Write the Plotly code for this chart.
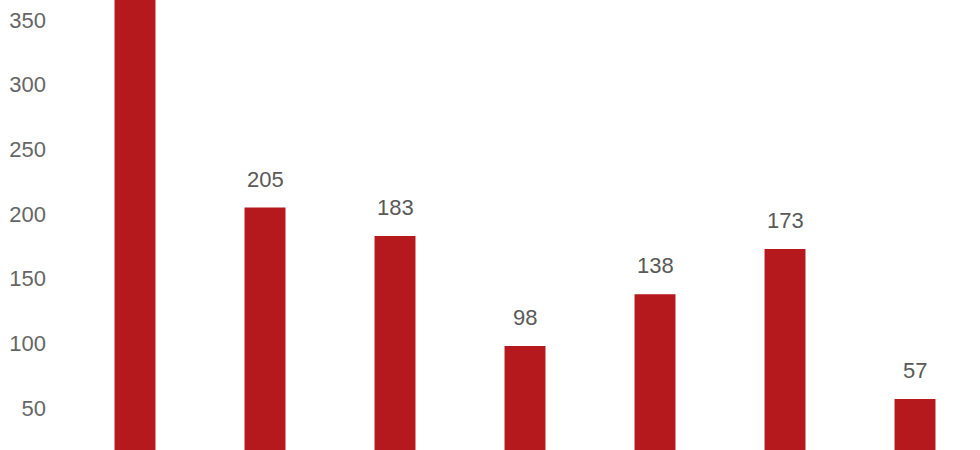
import plotly.graph_objects as go

# values (first bar runs past the top of the frame)
categories = ["A", "B", "C", "D", "E", "F", "G"]
values = [410, 205, 183, 98, 138, 173, 57]
y_ticks = [50, 100, 150, 200, 250, 300, 350]

bar_color = "#B5191E"
label_color = "#595959"
tick_color = "#666666"

fig = go.Figure()
fig.add_trace(go.Bar(
    x=categories,
    y=values,
    marker=dict(color=bar_color, line=dict(width=0)),
    width=0.315,
    hoverinfo="skip",
))

# value labels above each bar
for c, v in zip(categories, values):
    fig.add_annotation(
        x=c, y=v, text=str(v), showarrow=False,
        yanchor="bottom", yshift=14,
        font=dict(family="Liberation Sans, Arial", size=22, color=label_color),
    )

fig.update_layout(
    width=980, height=450,
    margin=dict(l=70, r=0, t=0, b=0),
    paper_bgcolor="white",
    plot_bgcolor="white",
    showlegend=False,
    font=dict(family="Liberation Sans, Arial", size=22, color=tick_color),
)
fig.update_xaxes(showticklabels=False, showgrid=False, zeroline=False,
                 showline=False, range=[-0.5, 6.5])
fig.update_yaxes(range=[17.5, 365.5], tickvals=y_ticks, showgrid=False,
                 zeroline=False, showline=False, ticklabelstandoff=23,
                 tickfont=dict(size=22, color=tick_color))

# drop the browser's default page margin so the chart sits at the corner
fig.write_html("out.html", config={"displayModeBar": False},
               post_script="document.body.style.margin='0';")
